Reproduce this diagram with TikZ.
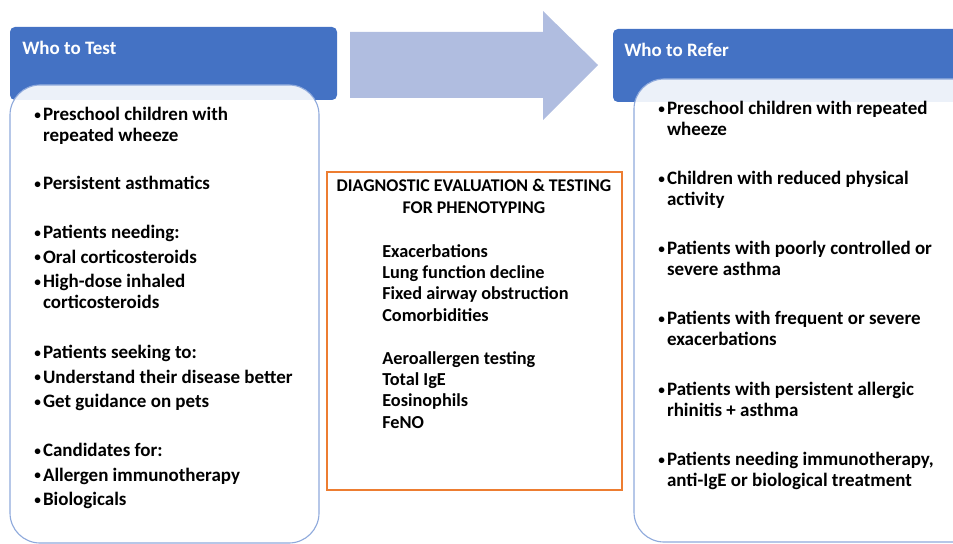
\documentclass[tikz,border=0pt]{standalone}
\usepackage{fontspec}
\setmainfont{Carlito}
\usepackage{graphicx}
\usepackage{tikz}

\definecolor{headblue}{RGB}{68,114,196}
\definecolor{boxline}{RGB}{143,170,220}
\definecolor{arrowblue}{RGB}{176,189,224}
\definecolor{testorange}{RGB}{237,125,49}

\tikzset{
  listbox/.style={draw=boxline, fill=white, fill opacity=0.9, rounded corners=0.75cm, line width=0.8pt},
  listtext/.style={anchor=north west, inner sep=0pt, align=left, font=\bfseries\fontsize{13.5}{14.9}\selectfont},
  headtext/.style={anchor=west, inner sep=0pt, text=white, font=\bfseries\fontsize{13.5}{14}\selectfont},
}
\newcommand{\bul}{\raisebox{0.15ex}{\scalebox{0.7}{\textbullet}}\hspace{1.5pt}}
\newcommand{\nobul}{\phantom{\bul}}

\begin{document}
\begin{tikzpicture}[x=0.025cm, y=-0.025cm]
                \useasboundingbox (0,0) rectangle (953,544);
                \clip (0,0) rectangle (953,544);
                \fill [headblue, rounded corners=3.5pt] (10,27) rectangle (337,100);
                \fill [headblue, rounded corners=3.5pt] (613,29) rectangle (990,102);
                \fill [arrowblue] (350,32) -- (543,32) -- (543,11) -- (598,65) -- (543,120) -- (543,98) -- (350,98) -- cycle;
                \draw [listbox] (10,85) rectangle (319,543);
                \draw [listbox] (634,79) rectangle (990,542);
                \draw [testorange, line width=1.4pt] (327,172) rectangle (622,490);
                \node [headtext] (testhead) at (22,48) {Who to Test};
                \node [headtext] (referhead) at (624,50) {Who to Refer};
                % who to test
                \node [listtext] (test1) at (34,107) {\bul Preschool children with\\\nobul repeated wheeze};
                \node [listtext] (test2) at (34,176) {\bul Persistent asthmatics};
                \node [listtext] (test3) at (34,225) {\bul Patients needing:\\[2.5pt]\bul Oral corticosteroids\\[2.5pt]\bul High-dose inhaled\\\nobul corticosteroids};
                \node [listtext] (test4) at (34,345) {\bul Patients seeking to:\\[2.5pt]\bul Understand their disease better\\[2.5pt]\bul Get guidance on pets};
                \node [listtext] (test5) at (34,443) {\bul Candidates for:\\[2.5pt]\bul Allergen immunotherapy\\[2.5pt]\bul Biologicals};
                % diagnostic evaluation
                \node [listtext, anchor=north, align=center, font=\bfseries\fontsize{12.7}{15.5}\selectfont] (diagtitle) at (474,179) {DIAGNOSTIC EVALUATION \& TESTING\\FOR PHENOTYPING};
                \node [listtext, font=\bfseries\fontsize{13}{15.2}\selectfont] (diagitems) at (382,244) {Exacerbations\\Lung function decline\\Fixed airway obstruction\\Comorbidities\\[15.2pt]Aeroallergen testing\\Total IgE\\Eosinophils\\FeNO};
                % who to refer
                \node [listtext] (refer1) at (658,101) {\bul Preschool children with repeated\\\nobul wheeze};
                \node [listtext] (refer2) at (658,171) {\bul Children with reduced physical\\\nobul activity};
                \node [listtext] (refer3) at (658,241) {\bul Patients with poorly controlled or\\\nobul severe asthma};
                \node [listtext] (refer4) at (658,311) {\bul Patients with frequent or severe\\\nobul exacerbations};
                \node [listtext] (refer5) at (658,382) {\bul Patients with persistent allergic\\\nobul rhinitis + asthma};
                \node [listtext] (refer6) at (658,452) {\bul Patients needing immunotherapy,\\\nobul anti-IgE or biological treatment};
            \end{tikzpicture}
\end{document}
